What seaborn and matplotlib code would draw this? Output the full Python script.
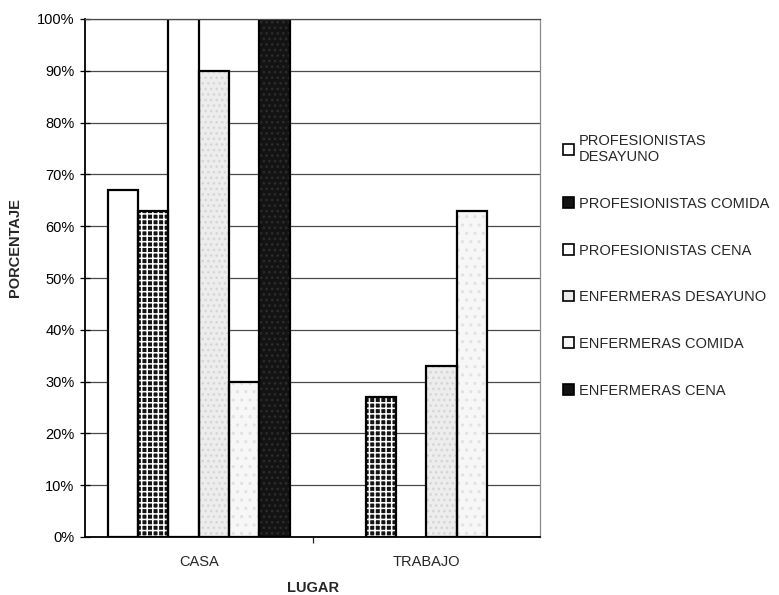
import textwrap
import numpy as np
import pandas as pd
import matplotlib
matplotlib.use("Agg")
import matplotlib.pyplot as plt
from matplotlib.patches import Patch, Rectangle
from matplotlib.ticker import PercentFormatter
import seaborn as sns

# Datos: porcentaje por lugar de consumo de cada comida
lugares = ["CASA", "TRABAJO"]
series = [
    "PROFESIONISTAS DESAYUNO",
    "PROFESIONISTAS COMIDA",
    "PROFESIONISTAS CENA",
    "ENFERMERAS DESAYUNO",
    "ENFERMERAS COMIDA",
    "ENFERMERAS CENA",
]
casa = [0.67, 0.63, 1.00, 0.90, 0.30, 1.00]
trabajo = [0.00, 0.27, 0.00, 0.33, 0.63, 0.00]
y_ticks = [0.0, 0.1, 0.2, 0.3, 0.4, 0.5, 0.6, 0.7, 0.8, 0.9, 1.0]

df = pd.DataFrame({
    "LUGAR": np.repeat(lugares, len(series)),
    "SERIE": series * len(lugares),
    "PORCENTAJE": casa + trabajo,
})

sns.set_theme(style="white")
plt.rcParams["font.family"] = ["Liberation Sans", "DejaVu Sans"]
plt.rcParams["hatch.linewidth"] = 1.1

# relleno, color de la trama, trama
estilos = [
    ("#ffffff", "#ffffff", None),
    ("#141414", "#ffffff", "+++"),
    ("#ffffff", "#ffffff", None),
    ("#ededed", "#d6d6d6", "..."),
    ("#f7f7f7", "#e2e2e2", ".."),
    ("#131313", "#2c2c2c", "..."),
]

fig = plt.figure(figsize=(7.79, 5.95), dpi=100)
ax = fig.add_axes([85 / 779, 1 - 537 / 595, 455 / 779, 518 / 595])

sns.barplot(data=df, x="LUGAR", y="PORCENTAJE", hue="SERIE",
            hue_order=series, order=lugares, width=0.8, gap=0,
            saturation=1, legend=False, ax=ax)

for cont, (fc, hc, hatch) in zip(ax.containers, estilos):
    for p in cont.patches:
        p.set_facecolor(fc)
        p.set_edgecolor(hc)
        p.set_linewidth(0)
        p.set_hatch(hatch)
        if p.get_height() > 0:
            ax.add_patch(Rectangle((p.get_x(), p.get_y()), p.get_width(),
                                   p.get_height(), fill=False,
                                   edgecolor="black", linewidth=1.6,
                                   zorder=p.get_zorder() + 0.1))

ax.set_ylim(0, 1)
ax.set_yticks(y_ticks)
ax.yaxis.set_major_formatter(PercentFormatter(1, decimals=0))
ax.yaxis.grid(True, color="#4a4a4a", linewidth=0.9)
ax.set_axisbelow(True)

ax.tick_params(axis="y", direction="inout", length=7, width=0.9,
               left=True, labelsize=10.5, pad=4, colors="black")
ax.tick_params(axis="x", length=0, labelsize=10.5, pad=13)
ax.set_xticks([0.5], minor=True)
ax.tick_params(axis="x", which="minor", direction="out", length=4,
               width=0.9, bottom=True)

for side in ["left", "bottom"]:
    ax.spines[side].set_color("black")
    ax.spines[side].set_linewidth(1.3)
ax.spines["top"].set_color("#4a4a4a")
ax.spines["top"].set_linewidth(0.9)
ax.spines["right"].set_color("#8a8a8a")
ax.spines["right"].set_linewidth(0.9)
ax.spines["right"].set_linestyle((0, (2, 1)))

ax.set_ylabel("PORCENTAJE", fontsize=10.5, fontweight="bold")
ax.yaxis.set_label_coords(-0.139, 0.558)
ax.set_xlabel("LUGAR", fontsize=10.5, fontweight="bold")
ax.xaxis.set_label_coords(0.5, -0.098)
ax.xaxis.label.set_va("center")

handles = [Patch(facecolor=fc, edgecolor="black", linewidth=1.2)
           for fc, hc, hatch in estilos]
labels = [textwrap.fill(s, 22) for s in series]
fig.legend(handles, labels, loc="upper left",
           bbox_to_anchor=(563 / 779, 1 - 134 / 595),
           frameon=False, fontsize=10.5, handlelength=0.75,
           handleheight=0.75, handletextpad=0.35, labelspacing=2.24,
           borderaxespad=0, borderpad=0)

fig.savefig("out.png", dpi=100, facecolor="white")
